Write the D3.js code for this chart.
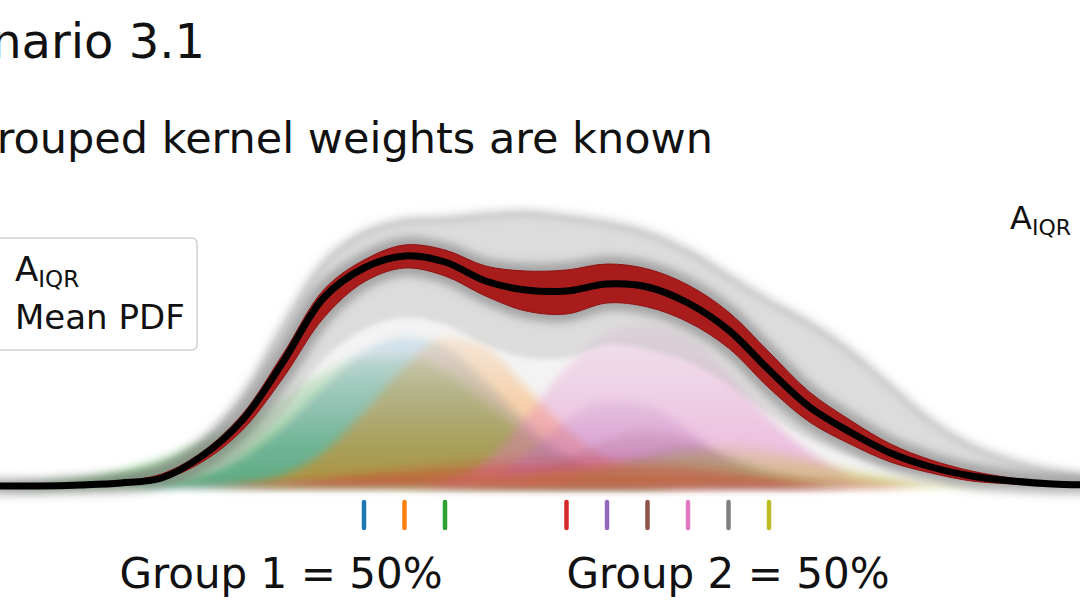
<!DOCTYPE html>
<html>
<head>
<meta charset="utf-8">
<script src="https://cdn.jsdelivr.net/npm/d3@7"></script>
<style>
  body { margin: 0; background: #fff; overflow: hidden; }
  text { font-family: "DejaVu Sans", sans-serif; fill: #111; }
</style>
</head>
<body>
<div id="chart-area"></div>
<script>
// kernel grid (x in kernel-spacing units) and curves
const xGrid = [-9,-8,-7,-6,-5,-4,-3,-2,-1,0,1,2,3,4,5,6,7,8,9,10,11,12,13,14,15,16,17,18];

const meanPdf   = [0.001,0.001,0.002,0.004,0.009,0.031,0.067,0.125,0.189,0.219,0.231,0.225,0.206,0.197,0.196,0.203,0.200,0.184,0.157,0.117,0.080,0.055,0.034,0.020,0.011,0.006,0.003,0.002];
const iqrUpper  = [0.001,0.001,0.003,0.006,0.013,0.035,0.073,0.133,0.197,0.227,0.242,0.237,0.221,0.216,0.217,0.223,0.218,0.202,0.175,0.135,0.095,0.067,0.043,0.027,0.016,0.009,0.005,0.003];
const iqrLower  = [0.000,0.000,0.001,0.002,0.007,0.025,0.057,0.109,0.169,0.205,0.219,0.211,0.191,0.176,0.173,0.184,0.180,0.165,0.139,0.099,0.065,0.043,0.025,0.014,0.006,0.003,0.001,0.001];
const cloudUpper = [0.001,0.002,0.004,0.009,0.021,0.047,0.092,0.162,0.225,0.255,0.267,0.269,0.273,0.275,0.271,0.265,0.255,0.237,0.212,0.187,0.165,0.137,0.102,0.067,0.042,0.027,0.017,0.011];
const cloudLower = [0,0,0,0.001,0.003,0.011,0.032,0.072,0.127,0.157,0.169,0.162,0.142,0.129,0.129,0.142,0.137,0.125,0.102,0.072,0.047,0.031,0.019,0.011,0.006,0.003,0.001,0.001];

// reach of each kernel's sampled curves
const blueReach   = [0,0,0,0,0.004,0.012,0.030,0.060,0.100,0.135,0.150,0.140,0.105,0.065,0.032,0.012,0.003,0,0,0,0,0,0,0,0,0,0,0];
const orangeReach = [0,0,0,0,0,0,0.003,0.012,0.035,0.075,0.120,0.150,0.140,0.100,0.058,0.028,0.010,0.002,0,0,0,0,0,0,0,0,0,0];
const greenReach  = [0,0.003,0.008,0.016,0.028,0.045,0.064,0.090,0.115,0.130,0.130,0.115,0.085,0.052,0.028,0.012,0.004,0,0,0,0,0,0,0,0,0,0,0];
const redReach    = [0,0,0,0,0,0.001,0.002,0.004,0.008,0.013,0.017,0.021,0.025,0.027,0.029,0.027,0.025,0.021,0.015,0.009,0.005,0.002,0.001,0,0,0,0,0];
const purpleReach = [0,0,0,0,0,0,0,0,0,0,0,0.002,0.007,0.032,0.067,0.087,0.082,0.057,0.027,0.009,0.002,0,0,0,0,0,0,0];
const brownReach  = [0,0,0,0,0,0,0,0,0,0,0,0,0.002,0.009,0.027,0.047,0.057,0.047,0.027,0.011,0.003,0,0,0,0,0,0,0];
const pinkReach   = [0,0,0,0,0,0,0,0,0,0,0,0.006,0.025,0.070,0.120,0.155,0.165,0.150,0.115,0.070,0.035,0.012,0.003,0,0,0,0,0];
const grayReach   = [0,0,0,0,0,0,0,0,0,0,0,0,0,0,0.005,0.017,0.032,0.042,0.032,0.017,0.007,0.002,0,0,0,0,0,0];
const oliveReach  = [0,0,0,0,0,0,0,0,0,0,0.001,0.003,0.009,0.013,0.017,0.021,0.027,0.037,0.042,0.037,0.027,0.017,0.009,0.003,0.001,0,0,0];

const kernelCenters = [0, 1, 2, 5, 6, 7, 8, 9, 10];
const kernelColors = ['#1f77b4','#ff7f0e','#2ca02c','#d62728','#9467bd','#8c564b','#e377c2','#7f7f7f','#bcbd22'];
const kernelReach = [blueReach, orangeReach, greenReach, redReach, purpleReach, brownReach, pinkReach, grayReach, oliveReach];
const drawOrder = [0, 2, 1, 4, 5, 6, 7, 8, 3];

const groupLabels = ['Group 1 = 50%', 'Group 2 = 50%'];

const width = 1080;
const height = 614;

const svg = d3.select('#chart-area')
  .append('svg')
    .attr('width', width)
    .attr('height', height);

const defs = svg.append('defs');

const soft = defs.append('filter').attr('id', 'soft')
  .attr('x', '-10%').attr('y', '-10%').attr('width', '120%').attr('height', '120%');
soft.append('feGaussianBlur').attr('stdDeviation', 2.5);

const softer = defs.append('filter').attr('id', 'softer')
  .attr('x', '-10%').attr('y', '-20%').attr('width', '120%').attr('height', '140%');
softer.append('feGaussianBlur').attr('stdDeviation', 4);

// Scales
const x = d3.scaleLinear()
  .domain([-9, 18])
  .range([-0.5, 1093]);

const y = d3.scaleLinear()
  .domain([0, 0.3])
  .range([487, 187]);

const band = (lo, hi, curve) => d3.area()
  .x((d, i) => x(xGrid[i]))
  .y0((d, i) => y(lo[i]))
  .y1((d, i) => y(hi[i]))
  .curve(curve || d3.curveCatmullRom.alpha(0.5));

const line = d3.line()
  .x((d, i) => x(xGrid[i]))
  .y(d => y(d))
  .curve(d3.curveCatmullRom.alpha(0.5));

const zeros = xGrid.map(() => 0);

// faint wash under the whole cloud of sampled PDFs
svg.append('path')
  .attr('d', band(zeros, cloudLower)(meanPdf))
  .attr('fill', '#dcdcdc')
  .attr('fill-opacity', 0.35)
  .attr('filter', 'url(#soft)');

// Kernel component curves, faded towards their top
const comp = svg.append('g');
drawOrder.forEach(k => {
  const reach = kernelReach[k];
  const gid = 'grad' + k;
  const g = defs.append('linearGradient').attr('id', gid)
    .attr('gradientUnits', 'userSpaceOnUse')
    .attr('x1', 0).attr('x2', 0)
    .attr('y1', y(0)).attr('y2', y(d3.max(reach)));
  g.append('stop').attr('offset', '0%').attr('stop-color', kernelColors[k]).attr('stop-opacity', 0.5);
  g.append('stop').attr('offset', '100%').attr('stop-color', kernelColors[k]).attr('stop-opacity', 0.12);
  comp.append('path')
    .attr('d', band(zeros, reach, d3.curveMonotoneX)(reach))
    .attr('fill', 'url(#' + gid + ')')
    .attr('filter', 'url(#softer)');
});

// Sampled mixture PDFs (grey cloud)
svg.append('path')
  .attr('d', band(cloudLower, cloudUpper)(meanPdf))
  .attr('fill', '#a8a8a8')
  .attr('fill-opacity', 0.4)
  .attr('filter', 'url(#soft)');

svg.append('path')
  .attr('d', line(cloudUpper))
  .attr('fill', 'none')
  .attr('stroke', '#7a7a7a')
  .attr('stroke-width', 6)
  .attr('stroke-opacity', 0.35)
  .attr('filter', 'url(#softer)');

svg.append('path')
  .attr('d', band(iqrLower, iqrUpper)(meanPdf))
  .attr('fill', 'none')
  .attr('stroke', '#555')
  .attr('stroke-width', 16)
  .attr('stroke-opacity', 0.4)
  .attr('filter', 'url(#softer)');

// A_IQR band
svg.append('path')
  .attr('d', band(iqrLower, iqrUpper)(meanPdf))
  .attr('fill', '#a81c1c')
  .attr('stroke', '#8e1414')
  .attr('stroke-width', 1);

// Mean PDF
svg.append('path')
  .attr('d', line(meanPdf))
  .attr('fill', 'none')
  .attr('stroke', '#000')
  .attr('stroke-width', 7)
  .attr('stroke-linecap', 'round');

// Kernel centre ticks
svg.append('g').selectAll('line')
  .data(kernelCenters)
  .enter().append('line')
    .attr('x1', d => x(d))
    .attr('x2', d => x(d))
    .attr('y1', 502)
    .attr('y2', 528)
    .attr('stroke', (d, i) => kernelColors[i])
    .attr('stroke-width', 4.5)
    .attr('stroke-linecap', 'round');

// Group labels
svg.selectAll('.group-label')
  .data(groupLabels)
  .enter().append('text')
    .attr('class', 'group-label')
    .attr('x', (d, i) => [281, 728][i])
    .attr('y', 588)
    .attr('font-size', '42px')
    .attr('text-anchor', 'middle')
    .text(d => d);

// Titles (cropped on the left like the picture)
svg.append('text')
  .attr('x', 205)
  .attr('y', 58)
  .attr('font-size', '48px')
  .attr('text-anchor', 'end')
  .text('Scenario 3.1');

svg.append('text')
  .attr('x', 713)
  .attr('y', 153)
  .attr('font-size', '43px')
  .attr('text-anchor', 'end')
  .text('Grouped kernel weights are known');

// Legend
const legend = svg.append('g');
legend.append('rect')
  .attr('x', -10)
  .attr('y', 238)
  .attr('width', 207)
  .attr('height', 112)
  .attr('rx', 5)
  .attr('fill', '#fff')
  .attr('fill-opacity', 0.8)
  .attr('stroke', '#d0d0d0')
  .attr('stroke-width', 1.5);

const aiqr = legend.append('text')
  .attr('x', 15)
  .attr('y', 281)
  .attr('font-size', '34px');
aiqr.append('tspan').text('A');
aiqr.append('tspan').attr('font-size', '23px').attr('dy', 6).text('IQR');

legend.append('text')
  .attr('x', 15)
  .attr('y', 329)
  .attr('font-size', '34px')
  .text('Mean PDF');

// Right annotation, cut by the frame
const note = svg.append('text')
  .attr('x', 1010)
  .attr('y', 229)
  .attr('font-size', '32px');
note.append('tspan').text('A');
note.append('tspan').attr('font-size', '22px').attr('dy', 6).text('IQR');
note.append('tspan').attr('dy', -6).text(' = ');
</script>
</body>
</html>
